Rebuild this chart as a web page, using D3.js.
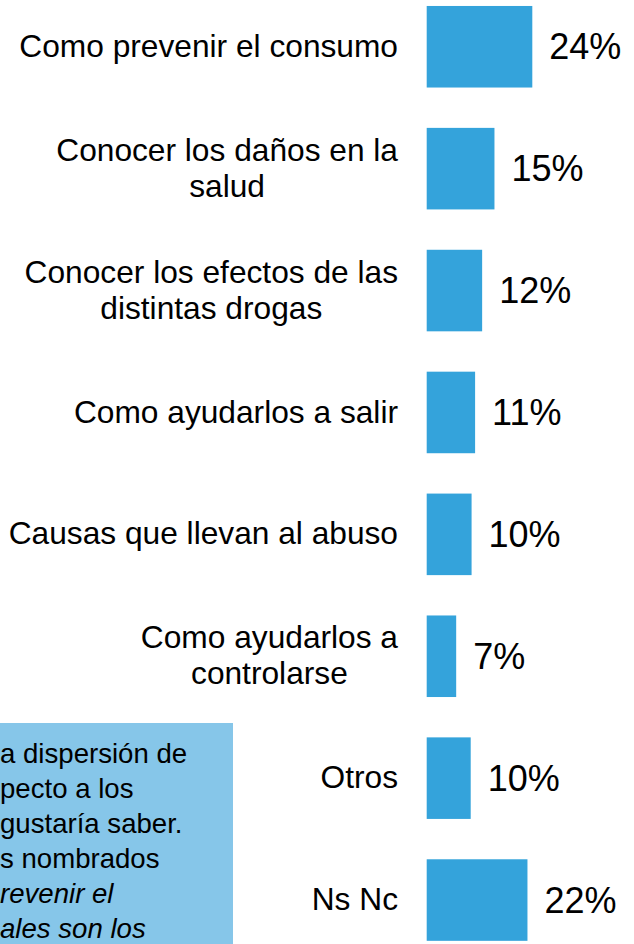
<!DOCTYPE html>
<html>

<head>
  <meta charset="utf-8">
  <title>Temas</title>
  <style>
    body {
      margin: 0;
      background-color: #fff;
    }

    svg text {
      font-family: Arial, "Liberation Sans", Helvetica, sans-serif;
    }

    .label {
      font-size: 31.7px;
      fill: #000;
    }

    .value {
      font-size: 36px;
      fill: #000;
    }

    .note text {
      font-size: 27.6px;
      fill: #000;
    }
  </style>
</head>

<body>
  <div id="chart"></div>
  <script src="https://d3js.org/d3.v7.min.js"></script>

  <script>
    // categories (line breaks as in the picture)
    var categories = [
      "Como prevenir el consumo",
      "Conocer los daños en la\nsalud",
      "Conocer los efectos de las\ndistintas drogas",
      "Como ayudarlos a salir",
      "Causas que llevan al abuso",
      "Como ayudarlos a\ncontrolarse",
      "Otros",
      "Ns Nc"
    ];

    // bar lengths (%)
    var values = [24, 15.4, 12.6, 11.0, 10.2, 6.7, 10.0, 22.9];

    // printed labels
    var valueLabels = ["24%", "15%", "12%", "11%", "10%", "7%", "10%", "22%"];

    // visible part of the note box (cut at the left edge)
    var noteLines = [
      "a dispersión de",
      "pecto a los",
      "gustaría saber.",
      "s nombrados",
      "revenir el",
      "ales son los"
    ];
    var noteItalic = [false, false, false, false, true, true];

    var width = 634,
      height = 944;

    var barColor = "#34a3db",
      noteColor = "#86c6e9";

    var svg = d3.select("#chart").append("svg")
      .attr("width", width)
      .attr("height", height);

    // scales
    var x = d3.scaleLinear()
      .domain([0, 24])
      .range([426.7, 532.3]);

    var y = d3.scaleBand()
      .domain(categories)
      .range([-14.2, 961])
      .paddingInner(0.331)
      .paddingOuter(0.1655);

    // bars
    svg.selectAll("rect.bar")
      .data(categories)
      .enter().append("rect")
      .attr("class", "bar")
      .attr("x", x(0))
      .attr("y", function(d) {
        return y(d);
      })
      .attr("width", function(d, i) {
        return x(values[i]) - x(0);
      })
      .attr("height", y.bandwidth())
      .style("fill", barColor);

    // value labels
    svg.selectAll("text.value")
      .data(categories)
      .enter().append("text")
      .attr("class", "value")
      .attr("x", function(d, i) {
        return x(values[i]) + 17;
      })
      .attr("y", function(d) {
        return y(d) + y.bandwidth() / 2;
      })
      .attr("dy", "0.35em")
      .text(function(d, i) {
        return valueLabels[i];
      });

    // category labels: block right-aligned at labelRight, lines centred
    var labelRight = 398,
      lineHeight = 36;

    categories.forEach(function(c) {
      var lines = c.split("\n");
      var cy = y(c) + y.bandwidth() / 2;
      var g = svg.append("g");
      var texts = lines.map(function(line, j) {
        return g.append("text")
          .attr("class", "label")
          .attr("y", cy + (j - (lines.length - 1) / 2) * lineHeight)
          .attr("dy", "0.32em")
          .text(line);
      });
      if (lines.length == 1) {
        texts[0].attr("x", labelRight).attr("text-anchor", "end");
      } else {
        var maxW = d3.max(texts, function(t) {
          return t.node().getComputedTextLength();
        });
        texts.forEach(function(t) {
          t.attr("x", labelRight - maxW / 2).attr("text-anchor", "middle");
        });
      }
    });

    // note box at the bottom left
    var note = svg.append("g").attr("class", "note");

    note.append("rect")
      .attr("x", 0)
      .attr("y", 723)
      .attr("width", 233)
      .attr("height", height - 723 + 10)
      .style("fill", noteColor);

    note.selectAll("text")
      .data(noteLines)
      .enter().append("text")
      .attr("x", 0)
      .attr("y", function(d, i) {
        return 763 + i * 35;
      })
      .style("font-style", function(d, i) {
        return noteItalic[i] ? "italic" : "normal";
      })
      .text(function(d) {
        return d;
      });
  </script>
</body>

</html>
